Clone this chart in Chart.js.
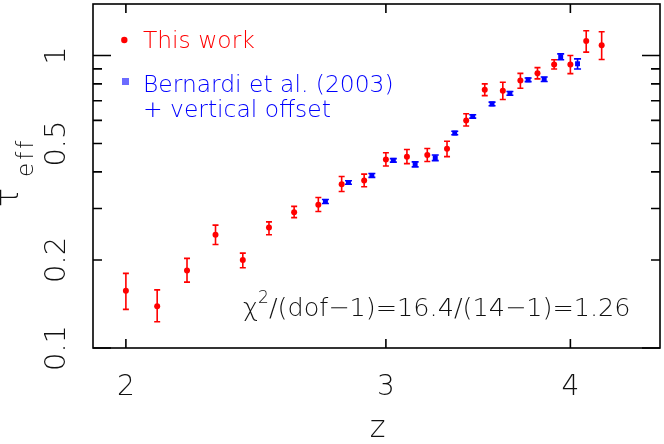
<!DOCTYPE html>
<html><head><meta charset="utf-8">
<script src="https://cdn.jsdelivr.net/npm/chart.js@4/dist/chart.umd.min.js"></script>
<style>html,body{margin:0;padding:0;background:#fff;}#wrap{width:664px;height:444px;position:relative;}</style>
</head><body><div id="wrap"><canvas id="c"></canvas></div>
<script>
// ---- data ----
const zRed = [2.0,2.1,2.2,2.3,2.4,2.5,2.6,2.7,2.8,2.9,3.0,3.1,3.2,3.3,3.4,3.5,3.6,3.7,3.8,3.9,4.0,4.1,4.2];
const tauRed = [0.157,0.139,0.184,0.244,0.200,0.258,0.291,0.309,0.363,0.374,0.441,0.451,0.457,0.480,0.600,0.764,0.758,0.821,0.869,0.932,0.932,1.121,1.084];
const tauRedLo = [0.1355,0.123,0.168,0.226,0.188,0.244,0.279,0.293,0.343,0.356,0.419,0.427,0.434,0.451,0.574,0.729,0.707,0.773,0.832,0.899,0.867,1.027,0.969];
const tauRedHi = [0.180,0.158,0.2025,0.263,0.211,0.270,0.305,0.327,0.386,0.393,0.465,0.477,0.481,0.509,0.632,0.800,0.810,0.869,0.909,0.967,1.000,1.215,1.206];

const zBern = [2.73,2.83,2.935,3.035,3.14,3.24,3.34,3.435,3.54,3.64,3.745,3.84,3.94,4.045];
const tauBern = [0.317,0.368,0.389,0.438,0.4245,0.447,0.543,0.619,0.683,0.742,0.826,0.8295,0.990,0.937];
const tauBernLo = [0.312,0.363,0.383,0.432,0.416,0.437,0.536,0.611,0.673,0.731,0.814,0.815,0.967,0.899];
const tauBernHi = [0.322,0.373,0.395,0.444,0.433,0.457,0.551,0.627,0.693,0.753,0.838,0.844,1.013,0.974];

const xTickValues = [2,3,4];
const xTickLabels = ['2','3','4'];
const yLabelValues = [0.1,0.2,0.5,1];
const yLabelTexts = ['0.1','0.2','0.5','1'];
const yMajorTicks = [0.1,1];
const yMinorTicks = [0.2,0.3,0.4,0.5,0.6,0.7,0.8,0.9];

const legendRed = 'This work';
const legendBlue1 = 'Bernardi et al. (2003)';
const legendBlue2 = '+ vertical offset';
const xTitle = 'z';
const chiText = '/(dof\u22121)=16.4/(14\u22121)=1.26';

const RED = '#ff0000', BLUE = '#0000ff';
const FONT = "'DejaVu Sans', sans-serif";
const W = '300 ';

const errPlugin = {
  id: 'errbars',
  beforeDatasetsDraw(chart) {
    const {ctx, scales: {x, y}} = chart;
    const sets = [
      [zRed, tauRedLo, tauRedHi, RED, 3],
      [zBern, tauBernLo, tauBernHi, BLUE, 3.5]
    ];
    ctx.save();
    ctx.lineWidth = 1.6;
    for (const [zs, lo, hi, col, cap] of sets) {
      ctx.strokeStyle = col;
      for (let i = 0; i < zs.length; i++) {
        const px = x.getPixelForValue(zs[i]);
        const p1 = y.getPixelForValue(lo[i]);
        const p2 = y.getPixelForValue(hi[i]);
        ctx.beginPath();
        ctx.moveTo(px, p1); ctx.lineTo(px, p2);
        ctx.moveTo(px - cap, p1); ctx.lineTo(px + cap, p1);
        ctx.moveTo(px - cap, p2); ctx.lineTo(px + cap, p2);
        ctx.stroke();
      }
    }
    ctx.restore();
  }
};

const framePlugin = {
  id: 'frame',
  beforeDraw(chart) {
    const ctx = chart.ctx;
    ctx.save(); ctx.fillStyle = '#fff'; ctx.fillRect(0, 0, chart.width, chart.height); ctx.restore();
  },
  afterDraw(chart) {
    const {ctx, chartArea: a, scales: {x, y}} = chart;
    ctx.save();
    ctx.strokeStyle = '#000';
    ctx.lineWidth = 1.6;
    ctx.strokeRect(a.left, a.top, a.right - a.left, a.bottom - a.top);
    ctx.beginPath();
    for (const v of xTickValues) {
      const px = x.getPixelForValue(v);
      ctx.moveTo(px, a.bottom); ctx.lineTo(px, a.bottom - 9);
      ctx.moveTo(px, a.top); ctx.lineTo(px, a.top + 9);
    }
    for (const v of yMinorTicks) {
      const py = y.getPixelForValue(v);
      ctx.moveTo(a.left, py); ctx.lineTo(a.left + 9, py);
      ctx.moveTo(a.right, py); ctx.lineTo(a.right - 9, py);
    }
    for (const v of yMajorTicks) {
      const py = y.getPixelForValue(v);
      ctx.moveTo(a.left, py); ctx.lineTo(a.left + 18, py);
      ctx.moveTo(a.right, py); ctx.lineTo(a.right - 18, py);
    }
    ctx.stroke();

    // tick labels
    ctx.fillStyle = '#111';
    ctx.font = W + '28px ' + FONT;
    ctx.textAlign = 'center';
    ctx.textBaseline = 'alphabetic';
    xTickValues.forEach((v, i) => {
      ctx.fillText(xTickLabels[i], x.getPixelForValue(v), 395);
    });
    ctx.font = W + '29px ' + FONT;
    yLabelValues.forEach((v, i) => {
      const py = y.getPixelForValue(v);
      ctx.save();
      ctx.translate(65, py);
      ctx.rotate(-Math.PI / 2);
      ctx.fillText(yLabelTexts[i], 0, 0);
      ctx.restore();
    });

    // x title
    ctx.font = W + '30px ' + FONT;
    ctx.fillText(xTitle, (a.left + a.right) / 2 + 1, 437);

    // y title tau_eff
    ctx.save();
    ctx.translate(0, 207);
    ctx.rotate(-Math.PI / 2);
    ctx.textAlign = 'left';
    ctx.font = W + '32px ' + FONT;
    ctx.fillText('\u03C4', 0, 18);
    ctx.font = W + '23px ' + FONT;
    ctx.letterSpacing = '3px';
    ctx.fillText('eff', 30, 33);
    ctx.restore();

    // legend
    ctx.textAlign = 'left';
    ctx.fillStyle = RED;
    ctx.beginPath(); ctx.arc(124.3, 40, 3.2, 0, Math.PI * 2); ctx.fill();
    ctx.font = W + '23.4px ' + FONT;
    ctx.fillText(legendRed, 143, 48);
    ctx.fillStyle = '#6b6bff';
    ctx.fillRect(122, 78, 7, 7);
    ctx.fillStyle = BLUE;
    ctx.fillText(legendBlue1, 143, 92);
    ctx.fillText(legendBlue2, 143, 117);

    // chi^2 annotation
    ctx.fillStyle = '#111';
    ctx.font = W + '25.5px ' + FONT;
    let cx = 243;
    ctx.fillText('\u03C7', cx, 316);
    cx += ctx.measureText('\u03C7').width;
    ctx.font = W + '17px ' + FONT;
    ctx.fillText('2', cx, 303);
    cx += ctx.measureText('2').width;
    ctx.font = W + '25.5px ' + FONT;
    ctx.fillText(chiText, cx, 316);
    ctx.restore();
  }
};

new Chart(document.getElementById('c'), {
  type: 'scatter',
  data: {
    datasets: [
      {
        label: legendRed,
        data: zRed.map((z, i) => ({x: z, y: tauRed[i]})),
        pointStyle: 'circle', pointRadius: 3, pointBackgroundColor: RED, pointBorderColor: RED, pointBorderWidth: 0,
        showLine: false
      },
      {
        label: legendBlue1,
        data: zBern.map((z, i) => ({x: z, y: tauBern[i]})),
        pointStyle: 'rect', pointRadius: 3.5, pointBackgroundColor: BLUE, pointBorderColor: BLUE, pointBorderWidth: 0,
        showLine: false
      }
    ]
  },
  options: {
    responsive: true, maintainAspectRatio: false, animation: false,
    layout: {padding: {left: 93, right: 1, top: 1, bottom: 96}},
    scales: {
      x: {type: 'logarithmic', min: 1.9, max: 4.6, display: false},
      y: {type: 'logarithmic', min: 0.1, max: 1.5, display: false}
    },
    plugins: {legend: {display: false}, tooltip: {enabled: false}}
  },
  plugins: [errPlugin, framePlugin]
});
</script>
</body></html>
